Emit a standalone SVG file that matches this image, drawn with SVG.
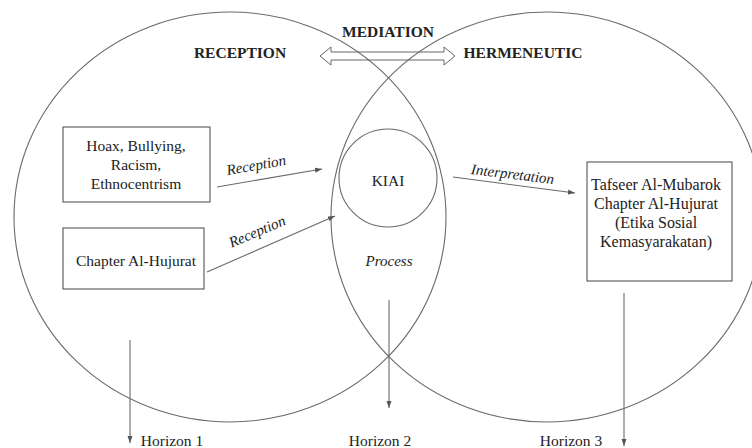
<svg xmlns="http://www.w3.org/2000/svg" width="752" height="448" viewBox="0 0 752 448">
<style>
.ln{fill:none;stroke:#6a6a6a;stroke-width:1.1}
.bx{fill:none;stroke:#555;stroke-width:1.1}
.t{font-family:"Liberation Serif","Times New Roman","DejaVu Serif",serif;font-size:15.5px;font-weight:normal;fill:#222;text-anchor:middle}
.i{font-style:italic;font-size:15px}
.b{font-weight:bold;font-size:15.5px}
.ar{fill:none;stroke:#666;stroke-width:1}
</style>
<defs>
<marker id="ah" markerWidth="8" markerHeight="6" refX="7" refY="3" orient="auto" markerUnits="userSpaceOnUse">
<path d="M0,0.5 L7,3 L0,5.5 Z" fill="#555"/>
</marker>
</defs>
<rect width="752" height="448" fill="#fff"/>
<g id="reception-circle"><ellipse class="ln" cx="230" cy="217" rx="216" ry="205"/><text class="t b" x="240" y="58">RECEPTION</text></g>
<g id="hermeneutic-circle"><ellipse class="ln" cx="547" cy="217" rx="216" ry="205"/><text class="t b" x="523" y="58">HERMENEUTIC</text></g>
<g id="mediation"><polygon class="ar" points="320,56 331,47 331,52 444,52 444,47 455,56 444,65 444,60 331,60 331,65"/><text class="t b" x="388" y="37">MEDIATION</text></g>
<g id="kiai"><circle class="ln" cx="388" cy="178" r="49"/><text class="t" x="388" y="186">KIAI</text></g>
<g id="process"><text class="t i" x="389" y="266">Process</text></g>
<g id="box-hoax"><rect class="bx" x="63" y="127" width="147" height="75"/>
<text class="t" x="136" y="151">Hoax, Bullying,</text><text class="t" x="136" y="170">Racism,</text><text class="t" x="136" y="189">Ethnocentrism</text></g>
<g id="box-hujurat"><rect class="bx" x="63" y="228" width="141" height="61"/><text class="t" x="136" y="266">Chapter Al-Hujurat</text></g>
<g id="box-tafseer"><rect class="bx" x="587" y="162" width="145" height="119"/>
<text class="t" x="656" y="190" style="font-size:16px">Tafseer Al-Mubarok</text><text class="t" x="656" y="209" style="font-size:16px">Chapter Al-Hujurat</text><text class="t" x="656" y="228" style="font-size:16px">(Etika Sosial</text><text class="t" x="656" y="247" style="font-size:16px">Kemasyarakatan)</text></g>
<g id="connectors">
<line class="ln" x1="217" y1="187" x2="322" y2="169" marker-end="url(#ah)"/>
<text class="t i" transform="translate(257,170) rotate(-10)">Reception</text>
<line class="ln" x1="207" y1="272" x2="335" y2="216" marker-end="url(#ah)"/>
<text class="t i" transform="translate(259,236) rotate(-23)">Reception</text>
<line class="ln" x1="453" y1="177" x2="575" y2="193" marker-end="url(#ah)"/>
<text class="t i" transform="translate(512,179) rotate(7)">Interpretation</text>
<line class="ln" x1="130" y1="340" x2="130" y2="443" marker-end="url(#ah)"/>
<line class="ln" x1="389" y1="300" x2="389" y2="408" marker-end="url(#ah)"/>
<line class="ln" x1="624" y1="293" x2="624" y2="446" marker-end="url(#ah)"/>
</g>
<g id="horizons">
<text class="t" x="172" y="446">Horizon 1</text>
<text class="t" x="380" y="446">Horizon 2</text>
<text class="t" x="571" y="446">Horizon 3</text>
</g>
</svg>
